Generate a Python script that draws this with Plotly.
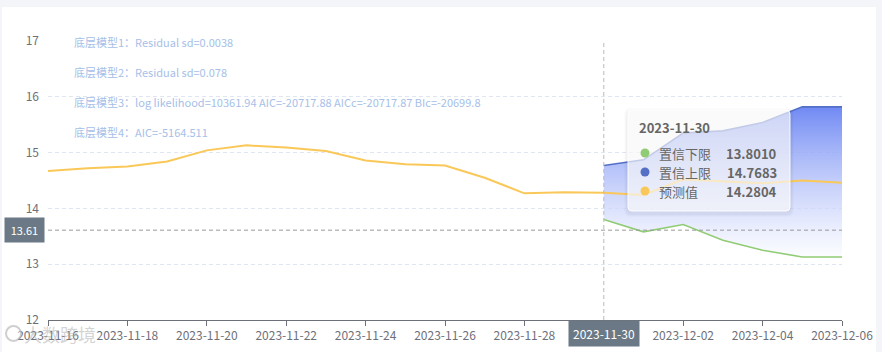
import plotly.graph_objects as go

# ---------------- data ----------------
dates = ["2023-11-16", "2023-11-17", "2023-11-18", "2023-11-19", "2023-11-20",
         "2023-11-21", "2023-11-22", "2023-11-23", "2023-11-24", "2023-11-25",
         "2023-11-26", "2023-11-27", "2023-11-28", "2023-11-29", "2023-11-30",
         "2023-12-01", "2023-12-02", "2023-12-03", "2023-12-04", "2023-12-05",
         "2023-12-06"]
forecast = [14.67, 14.72, 14.75, 14.84, 15.04, 15.13, 15.09, 15.03, 14.86, 14.79,
            14.77, 14.55, 14.27, 14.29, 14.2804, 14.24, 14.52, 14.48, 14.45, 14.50,
            14.46]
upper = [None] * 14 + [14.7683, 14.87, 15.35, 15.39, 15.54, 15.82, 15.82]
lower = [None] * 14 + [13.8010, 13.58, 13.71, 13.43, 13.25, 13.13, 13.13]

series_names = ["置信下限", "置信上限", "预测值"]
model_notes = [
    "底层模型1：Residual sd=0.0038",
    "底层模型2：Residual sd=0.078",
    "底层模型3：log likelihood=10361.94 AIC=-20717.88 AICc=-20717.87 BIc=-20699.8",
    "底层模型4：AIC=-5164.511",
]
pointer_date = "2023-11-30"
pointer_value = 13.61

# ---------------- layout helpers ----------------
W, H = 882, 352
L, R, T, B = 48, 40, 41, 32
PW, PH = W - L - R, H - T - B


def px(x):
    return (x - L) / PW


def py(y):
    return (H - B - y) / PH


FONT = "Noto Sans CJK SC, Noto Sans, sans-serif"
GREEN, BLUE, YELLOW = "#91cc75", "#5470c6", "#fac858"

fig = go.Figure()

fig.add_trace(go.Scatter(x=dates, y=lower, mode="lines", name=series_names[0],
                         line=dict(color=GREEN, width=1.6), connectgaps=False))
fig.add_trace(go.Scatter(x=dates, y=upper, mode="lines", name=series_names[1],
                         line=dict(color=BLUE, width=1.6), fill="tonexty",
                         fillgradient=dict(type="vertical", start=min(v for v in lower if v is not None),
                                           stop=max(v for v in upper if v is not None),
                                           colorscale=[[0, "rgba(250,251,255,0.6)"],
                                                       [1, "rgba(108,134,243,0.97)"]])))
fig.add_trace(go.Scatter(x=dates, y=forecast, mode="lines", name=series_names[2],
                         line=dict(color=YELLOW, width=2)))

shapes = []
# white card
shapes.append(dict(type="rect", xref="paper", yref="paper", x0=px(2), x1=px(876),
                   y0=py(356), y1=py(7), fillcolor="white", line=dict(width=0), layer="below"))
# crosshair
shapes.append(dict(type="line", xref="x", yref="paper", x0=pointer_date, x1=pointer_date,
                   y0=0, y1=1, line=dict(color="#bbbbbb", width=1, dash="4px,3px")))
shapes.append(dict(type="line", xref="paper", yref="y", x0=0, x1=1, y0=pointer_value,
                   y1=pointer_value, line=dict(color="#999999", width=1, dash="4px,3px")))


def rounded_rect(x0, y0, x1, y1, r):
    X = lambda v: px(v)
    Y = lambda v: py(v)
    return (f"M {X(x0 + r)},{Y(y0)} L {X(x1 - r)},{Y(y0)} Q {X(x1)},{Y(y0)} {X(x1)},{Y(y0 + r)} "
            f"L {X(x1)},{Y(y1 - r)} Q {X(x1)},{Y(y1)} {X(x1 - r)},{Y(y1)} "
            f"L {X(x0 + r)},{Y(y1)} Q {X(x0)},{Y(y1)} {X(x0)},{Y(y1 - r)} "
            f"L {X(x0)},{Y(y0 + r)} Q {X(x0)},{Y(y0)} {X(x0 + r)},{Y(y0)} Z")


# tooltip shadow + box
for i, a in enumerate([0.012, 0.018, 0.024]):
    d = 4 - i
    shapes.append(dict(type="path", xref="paper", yref="paper",
                       path=rounded_rect(628 - d, 110 - d + 2, 790 + d, 211 + d + 2, 6),
                       fillcolor=f"rgba(0,0,0,{a})", line=dict(width=0)))
shapes.append(dict(type="path", xref="paper", yref="paper",
                   path=rounded_rect(628, 110, 790, 211, 4),
                   fillcolor="rgba(255,255,255,0.66)", line=dict(color="rgba(255,255,255,0.9)", width=1)))

idx = dates.index(pointer_date)
tip_vals = [lower[idx], upper[idx], forecast[idx]]
tip_cols = [GREEN, BLUE, YELLOW]
row_y = [153, 172, 191]
for cy, c in zip(row_y, tip_cols):
    shapes.append(dict(type="circle", xref="paper", yref="paper",
                       x0=px(640.5), x1=px(649.5), y0=py(cy + 4.5), y1=py(cy - 4.5),
                       fillcolor=c, line=dict(width=0)))
# watermark logo ring
shapes.append(dict(type="circle", xref="paper", yref="paper",
                   x0=px(6), x1=px(21), y0=py(341), y1=py(326),
                   fillcolor="rgba(255,255,255,0.5)", line=dict(color="rgba(175,175,175,0.6)", width=2)))

annotations = []
for i, t in enumerate(model_notes):
    annotations.append(dict(xref="paper", yref="paper", x=px(72), y=py(42 + 30 * i),
                            xanchor="left", yanchor="middle", text=t, showarrow=False,
                            font=dict(family=FONT, size=11, color="#a6c0e8")))
annotations.append(dict(xref="paper", yref="paper", x=px(637), y=py(128), xanchor="left",
                        yanchor="middle", text=f"<b>{pointer_date}</b>", showarrow=False,
                        font=dict(family=FONT, size=13, color="#666666")))
for cy, name, v in zip(row_y, series_names, tip_vals):
    annotations.append(dict(xref="paper", yref="paper", x=px(657), y=py(cy), xanchor="left",
                            yanchor="middle", text=name, showarrow=False,
                            font=dict(family=FONT, size=13, color="#666666")))
    annotations.append(dict(xref="paper", yref="paper", x=px(779), y=py(cy), xanchor="right",
                            yanchor="middle", text=f"<b>{v:.4f}</b>", showarrow=False,
                            font=dict(family=FONT, size=13, color="#666666")))
# axis pointer labels
annotations.append(dict(xref="paper", yref="y", x=px(24), y=pointer_value, xanchor="center",
                        yanchor="middle", text=f"{pointer_value:.2f}", showarrow=False,
                        bgcolor="#6a7985", borderpad=4, width=31,
                        font=dict(family=FONT, size=11, color="white")))
annotations.append(dict(xref="x", yref="paper", x=pointer_date, y=py(333), xanchor="center",
                        yanchor="middle", text=pointer_date, showarrow=False,
                        bgcolor="#6a7985", borderpad=4,
                        font=dict(family=FONT, size=12, color="white")))
# watermark
annotations.append(dict(xref="paper", yref="paper", x=px(22), y=py(334), xanchor="left",
                        yanchor="middle", text="大数跨境", showarrow=False,
                        font=dict(family=FONT, size=18, color="rgba(175,175,175,0.55)")))

fig.update_layout(
    width=W, height=H,
    margin=dict(l=L, r=R, t=T, b=B, autoexpand=False),
    paper_bgcolor="#f4f5f9",
    plot_bgcolor="rgba(0,0,0,0)",
    showlegend=False,
    hovermode=False,
    font=dict(family=FONT, size=12, color="#6e7079"),
    shapes=shapes,
    annotations=annotations,
    xaxis=dict(type="date", range=[dates[0], dates[-1]], tick0=dates[0], dtick=2 * 86400000,
               tickformat="%Y-%m-%d", showgrid=False, showline=True, linecolor="#6e7079",
               linewidth=1, ticks="outside", ticklen=5, tickcolor="#6e7079", automargin=False,
               tickfont=dict(family=FONT, size=12, color="#6e7079"), zeroline=False),
    yaxis=dict(range=[12, 17], dtick=1, showgrid=True, gridcolor="#e0e6f1", griddash="4px,3px",
               showline=False, zeroline=False, ticks="", ticklabelstandoff=8, automargin=False,
               tickfont=dict(family=FONT, size=12, color="#6e7079")),
)

fig.write_html("out.html")
